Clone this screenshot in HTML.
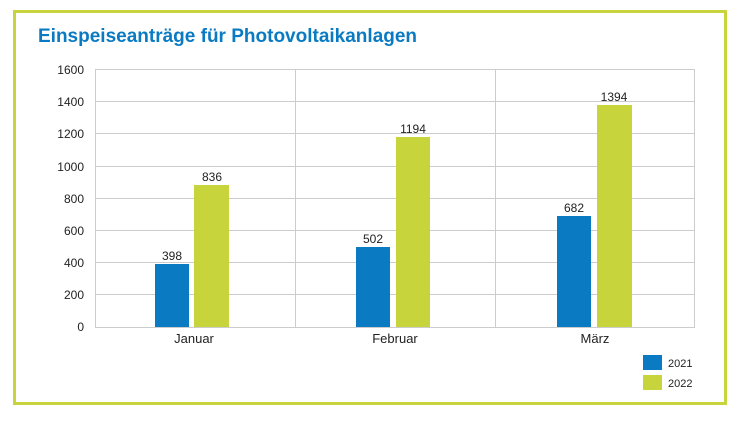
<!DOCTYPE html>
<html><head><meta charset="utf-8"><style>
body{margin:0;width:746px;height:419px;background:#fff;font-family:"Liberation Sans",sans-serif;}
</style></head><body>
<svg width="746" height="419" xmlns="http://www.w3.org/2000/svg" font-family="Liberation Sans, sans-serif">
<rect x="14.5" y="11.5" width="711" height="392" fill="none" stroke="#c8d43c" stroke-width="3"/>
<text x="38" y="42" font-size="19" font-weight="bold" fill="#0a7bc2">Einspeiseanträge für Photovoltaikanlagen</text>
<g stroke="#cccccc" stroke-width="1">
<line x1="95" y1="69.5" x2="695" y2="69.5"/>
<line x1="95" y1="101.5" x2="695" y2="101.5"/>
<line x1="95" y1="133.5" x2="695" y2="133.5"/>
<line x1="95" y1="166.5" x2="695" y2="166.5"/>
<line x1="95" y1="198.5" x2="695" y2="198.5"/>
<line x1="95" y1="230.5" x2="695" y2="230.5"/>
<line x1="95" y1="262.5" x2="695" y2="262.5"/>
<line x1="95" y1="294.5" x2="695" y2="294.5"/>
<line x1="95" y1="327.5" x2="695" y2="327.5"/>
<line x1="95.5" y1="69" x2="95.5" y2="327"/>
<line x1="295.5" y1="69" x2="295.5" y2="327"/>
<line x1="495.5" y1="69" x2="495.5" y2="327"/>
<line x1="694.5" y1="69" x2="694.5" y2="327"/>
</g>
<g font-size="12" fill="#222" text-anchor="end">
<text x="84" y="74">1600</text><text x="84" y="106">1400</text><text x="84" y="138">1200</text>
<text x="84" y="171">1000</text><text x="84" y="203">800</text><text x="84" y="235">600</text>
<text x="84" y="267">400</text><text x="84" y="299">200</text><text x="84" y="331">0</text>
</g>
<g fill="#0a7bc2">
<rect x="155" y="264" width="34" height="63"/>
<rect x="356" y="247" width="34" height="80"/>
<rect x="557" y="216" width="34" height="111"/>
</g>
<g fill="#c8d43c">
<rect x="194" y="185" width="35" height="142"/>
<rect x="396" y="137" width="34" height="190"/>
<rect x="597" y="105" width="35" height="222"/>
</g>
<g font-size="12" fill="#222" text-anchor="middle">
<text x="172" y="260">398</text><text x="212" y="181">836</text>
<text x="373" y="243">502</text><text x="413" y="133">1194</text>
<text x="574" y="212">682</text><text x="614" y="101">1394</text>
<text x="194" y="343" font-size="13">Januar</text>
<text x="395" y="343" font-size="13">Februar</text>
<text x="595" y="343" font-size="13">März</text>
</g>
<rect x="643" y="355" width="19" height="15" fill="#0a7bc2"/>
<rect x="643" y="375" width="19" height="15" fill="#c8d43c"/>
<text x="668" y="367" font-size="11" fill="#222">2021</text>
<text x="668" y="387" font-size="11" fill="#222">2022</text>
</svg>
</body></html>
